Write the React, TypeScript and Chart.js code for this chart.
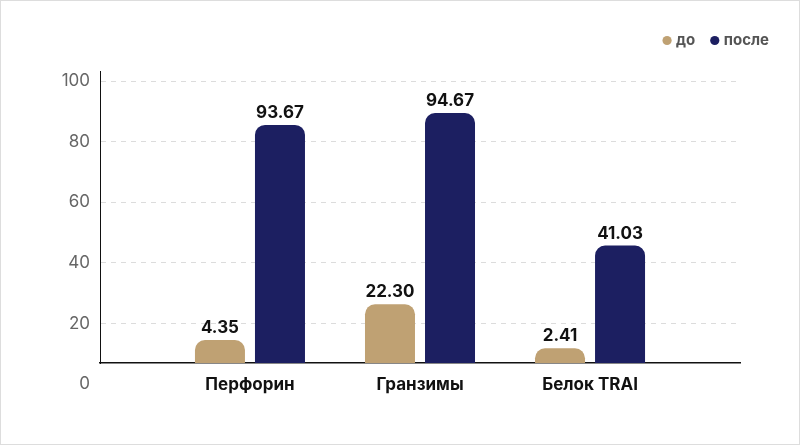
import { useEffect, useRef } from 'react'
import { Chart, registerables } from 'chart.js'

Chart.register(...registerables)

const CATEGORIES = ['Перфорин', 'Гранзимы', 'Белок TRAI']
const SERIES_NAMES = ['до', 'после']
// bar tops as read against the drawn y axis
const BEFORE = [14.5, 26.3, 11.8]
const AFTER = [85.5, 89.4, 45.7]
// value labels printed above the bars
const BEFORE_TEXT = ['4.35', '22.30', '2.41']
const AFTER_TEXT = ['93.67', '94.67', '41.03']
const Y_TICKS = [0, 20, 40, 60, 80, 100]

const TAN = '#BFA173'
const NAVY = '#1C1F61'
const FONT = 'Inter, "Noto Sans", sans-serif'

const valueLabels = {
  id: 'valueLabels',
  beforeInit(chart: any) {
    // leave a gap between the legend row and the plot
    const legend = chart.legend
    if (!legend) return
    const fit = legend.fit
    legend.fit = function () {
      fit.call(legend)
      legend.height += 13
      // tiny slack so the right-aligned row never wraps on float rounding
      legend.lineWidths = legend.lineWidths.map((w: number) => w + 0.01)
    }
  },
  afterDatasetsDraw(chart: Chart) {
    const ctx = chart.ctx
    const texts = [BEFORE_TEXT, AFTER_TEXT]
    ctx.save()
    ctx.font = `700 17px ${FONT}`
    ctx.fillStyle = '#111'
    ctx.textAlign = 'center'
    ctx.textBaseline = 'alphabetic'
    chart.data.datasets.forEach((_, di) => {
      const meta = chart.getDatasetMeta(di)
      meta.data.forEach((el: any, i) => {
        ctx.fillText(texts[di][i], el.x, el.y - 7)
      })
    })
    ctx.restore()
  }
}

export default function App() {
  const canvasRef = useRef<HTMLCanvasElement>(null)
  const chartRef = useRef<Chart | null>(null)

  useEffect(() => {
    if (!canvasRef.current) return
    chartRef.current?.destroy()

    chartRef.current = new Chart(canvasRef.current, {
      type: 'bar',
      data: {
        labels: CATEGORIES.map((_, i) => i),
        datasets: [
          { label: SERIES_NAMES[0], data: BEFORE, backgroundColor: TAN, borderRadius: 10 },
          { label: SERIES_NAMES[1], data: AFTER, backgroundColor: NAVY, borderRadius: 10 }
        ]
      },
      options: {
        responsive: true,
        maintainAspectRatio: false,
        animation: false,
        categoryPercentage: 0.706,
        barPercentage: 0.833,
        layout: { padding: { top: 14, right: 12, left: 0, bottom: 0 } },
        plugins: {
          tooltip: { enabled: false },
          legend: {
            position: 'top',
            align: 'end',
            labels: {
              usePointStyle: true,
              pointStyle: 'circle',
              boxWidth: 3,
              boxHeight: 6.5,
              padding: 18,
              color: '#555',
              font: { family: FONT, size: 15, weight: '700' }
            }
          }
        },
        scales: {
          x: {
            type: 'linear',
            offset: false,
            min: -0.882,
            max: 2.882,
            grid: { display: false, drawTicks: false, offset: false },
            border: { display: true, color: '#111', width: 1.5 },
            afterBuildTicks: (s: any) => { s.ticks = CATEGORIES.map((_, i) => ({ value: i })) },
            afterFit: (s: any) => { s.height = 81 },
            ticks: {
              autoSkip: false,
              maxRotation: 0,
              padding: 12,
              color: '#111',
              font: { family: FONT, size: 17, weight: '700' },
              callback: (v: any) => CATEGORIES[v] ?? ''
            }
          },
          y: {
            min: 6.94,
            max: 103.3,
            afterBuildTicks: (s: any) => { s.ticks = Y_TICKS.map(v => ({ value: v })) },
            afterFit: (s: any) => { s.width = 99 },
            grid: {
              drawTicks: false,
              color: (c: any) => (c.tick && c.tick.value === 0 ? 'rgba(0,0,0,0)' : '#dcdcdc'),
              lineWidth: 1
            },
            border: { display: true, color: '#111', width: 1, dash: [5, 5] },
            ticks: {
              padding: 10,
              color: '#666',
              font: { family: FONT, size: 17 }
            }
          },
          yr: {
            type: 'linear',
            position: 'right',
            grid: { display: false, drawTicks: false },
            border: { display: false },
            ticks: { display: false },
            afterFit: (s: any) => { s.width = 47 }
          }
        }
      },
      plugins: [valueLabels]
    })

    return () => { chartRef.current?.destroy() }
  }, [])

  return (
    <div style={{
      position: 'absolute', left: 0, top: 0, width: 800, height: 445,
      boxSizing: 'border-box', border: '1px solid #dddddd', background: '#fff'
    }}>
      <div style={{ position: 'relative', width: 798, height: 443 }}>
        <canvas ref={canvasRef} />
      </div>
    </div>
  )
}
